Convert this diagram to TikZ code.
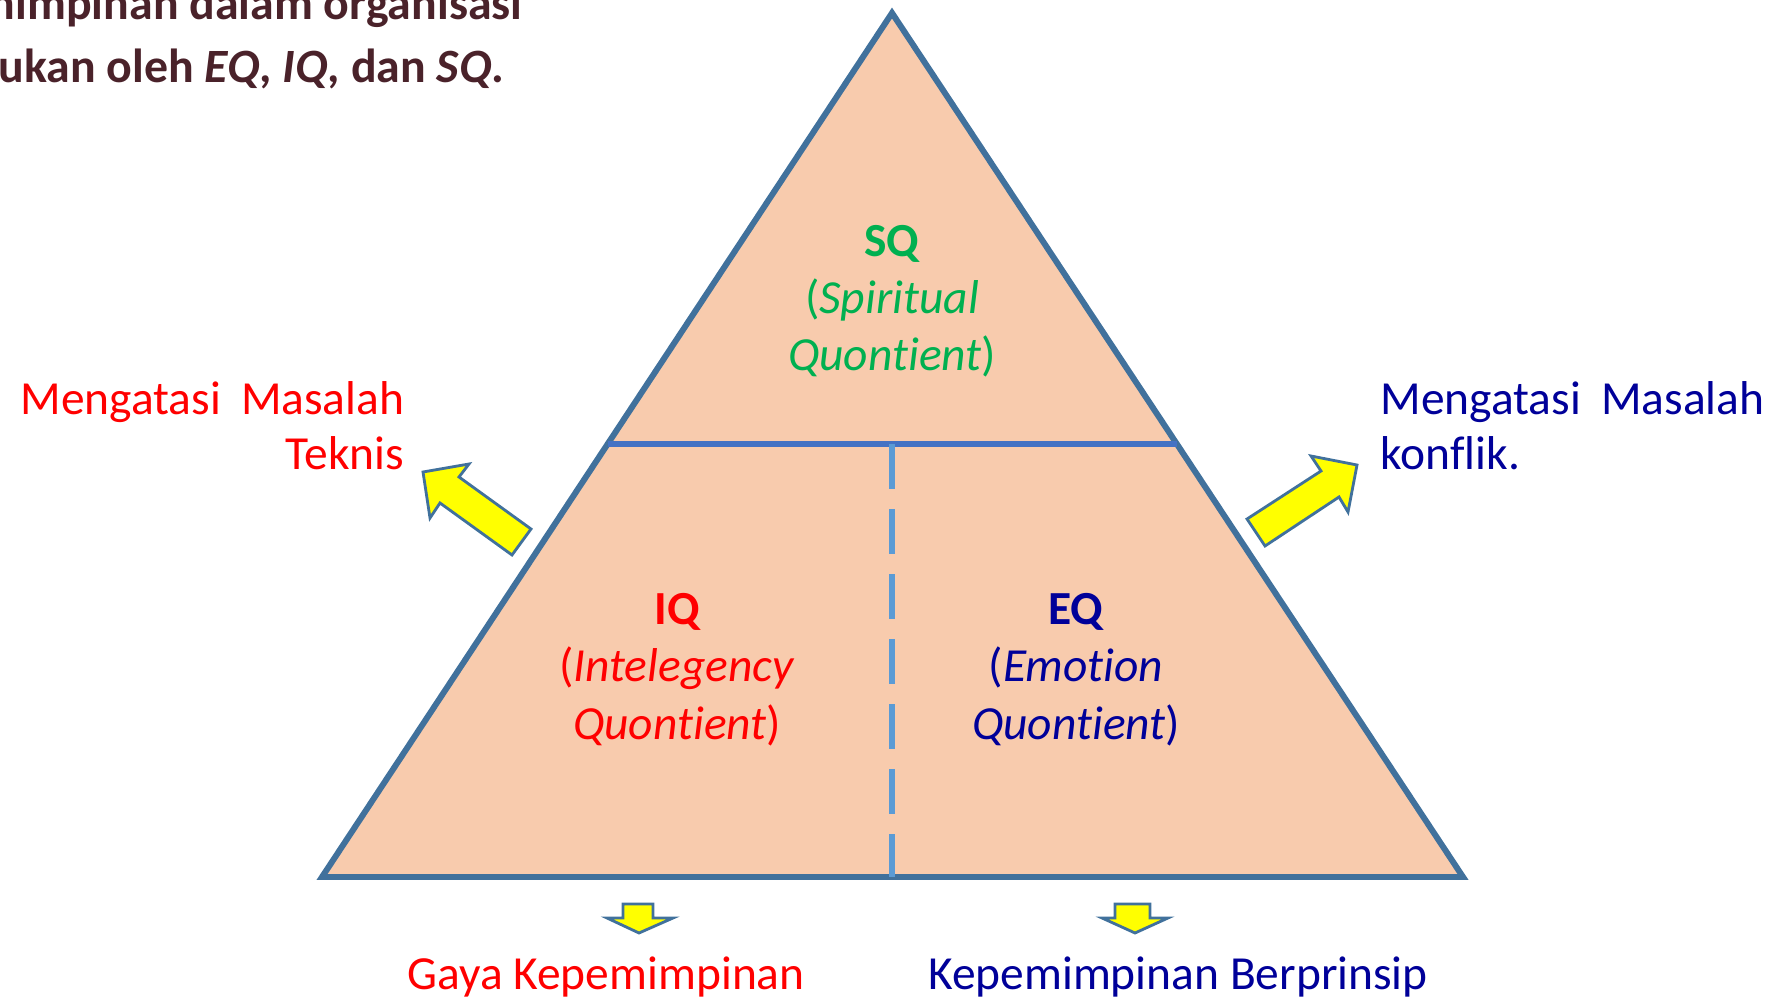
\documentclass[tikz,border=0pt]{standalone}
\usepackage{fontspec}
\setmainfont{Carlito}[Ligatures={NoCommon,NoContextual,NoRare}]
\definecolor{trifill}{HTML}{F8CBAD}
\definecolor{triedge}{HTML}{41719C}
\definecolor{divline}{HTML}{4472C4}
\definecolor{dashline}{HTML}{5B9BD5}
\definecolor{sqgreen}{HTML}{00B050}
\definecolor{eqblue}{HTML}{000099}
\definecolor{iqred}{HTML}{FF0000}
\definecolor{titlecol}{HTML}{4A222A}
\definecolor{arrowfill}{HTML}{FFFF00}
\newcommand{\quonword}{Quont\kern0pt ient}
\begin{document}
\begin{tikzpicture}[x=0.01cm,y=-0.01cm,
  lbl/.style={font=\fontsize{13.5}{16}\selectfont, inner sep=0pt, anchor=base},
  ttl/.style={font=\fontsize{13.6}{17}\selectfont\bfseries, text=titlecol, inner sep=0pt, anchor=base east},
  blockarrow/.style={draw=triedge, fill=arrowfill, line width=0.8pt, line join=miter},
  triangle/.style={draw=triedge, fill=trifill, line width=1.7pt, line join=miter}]
\useasboundingbox (0,0) rectangle (1777,1001);

% triangle
\coordinate (apex) at (892,13);
\coordinate (bl) at (322,877);
\coordinate (br) at (1463,877);
\coordinate (dl) at (608,444);
\coordinate (dr) at (1177,444);
\coordinate (dtop) at (892,444);
\coordinate (dbot) at (892,877);
\draw[triangle] (apex) -- (bl) -- (br) -- cycle;
\draw[divline, line width=1.7pt] (dl) -- (dr);
\draw[dashline, line width=1.6pt, dash pattern=on 12.8pt off 5.7pt] (dtop) -- (dbot);

% title (cut off at the left edge, as in the reference)
\node[ttl] (t1) at (523,20) {nimpinan dalam organisasi};
\node[ttl] (t2) at (505,83) {ukan oleh \textit{EQ}, \textit{IQ}, dan \textit{SQ}.};

% SQ block
\node[lbl, text=sqgreen, font=\fontsize{13.5}{16}\selectfont\bfseries] (sq1) at (892,257) {SQ};
\node[lbl, text=sqgreen] (sq2) at (892,314) {(\textit{Spiritual}};
\node[lbl, text=sqgreen] (sq3) at (892,371) {\textit{\quonword})};

% IQ block
\node[lbl, text=iqred, font=\fontsize{13.5}{16}\selectfont\bfseries] (iq1) at (677,624) {IQ};
\node[lbl, text=iqred] (iq2) at (677,681) {(\textit{Intelegency}};
\node[lbl, text=iqred] (iq3) at (677,739) {\textit{\quonword})};

% EQ block
\node[lbl, text=eqblue, font=\fontsize{13.5}{16}\selectfont\bfseries] (eq1) at (1076,624) {EQ};
\node[lbl, text=eqblue] (eq2) at (1076,681) {(\textit{Emotion}};
\node[lbl, text=eqblue] (eq3) at (1076,739) {\textit{\quonword})};

% side labels
\node[lbl, text=iqred, anchor=base east] (l1) at (405,415) {Mengatasi\hspace{0.2cm}Masalah};
\node[lbl, text=iqred, anchor=base east] (l2) at (405,470) {Teknis};
\node[lbl, text=eqblue, anchor=base west] (r1) at (1380,415) {Mengatasi\hspace{0.2cm}Masalah};
\node[lbl, text=eqblue, anchor=base west] (r2) at (1380,470) {konflik.};

% bottom labels
\node[lbl, text=iqred] (b1) at (606,989) {Gaya Kepemimpinan};
\node[lbl, text=eqblue] (b2) at (1178,989) {Kepemimpinan Berprinsip};

% block arrows
\draw[blockarrow] (423,472) -- (469,464) -- (459,477) -- (531,529) -- (512,555) -- (440,503) -- (430,518) -- cycle;
\draw[blockarrow] (1357,465) -- (1311,456) -- (1321,471) -- (1247,519) -- (1265,546) -- (1339,497) -- (1348,512) -- cycle;
\draw[blockarrow] (623,904) -- (653,904) -- (653,918) -- (673,918) -- (639,933) -- (607,918) -- (623,918) -- cycle;
\draw[blockarrow] (1115,904) -- (1150,904) -- (1150,918) -- (1168,918) -- (1135,933) -- (1102,918) -- (1115,918) -- cycle;
\end{tikzpicture}
\end{document}
